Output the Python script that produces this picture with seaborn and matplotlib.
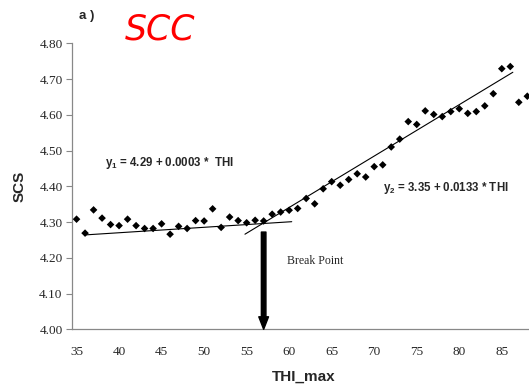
import numpy as np
import pandas as pd
import seaborn as sns
import matplotlib.pyplot as plt
from matplotlib import font_manager

# data
thi = list(range(35, 89))
scs = [4.308, 4.269, 4.334, 4.311, 4.293, 4.290, 4.308, 4.290, 4.282, 4.282,
       4.295, 4.266, 4.288, 4.282, 4.304, 4.303, 4.337, 4.285, 4.314, 4.304,
       4.298, 4.305, 4.303, 4.322, 4.328, 4.333, 4.338, 4.366, 4.351, 4.393,
       4.413, 4.403, 4.419, 4.435, 4.426, 4.455, 4.460, 4.510, 4.532, 4.581,
       4.573, 4.611, 4.601, 4.595, 4.609, 4.617, 4.604, 4.609, 4.625, 4.659,
       4.729, 4.735, 4.635, 4.652]

# fitted segments (end points as drawn)
fit1_x = [36, 60.3]
fit1_y = [4.264, 4.301]
fit2_x = [54.8, 86.3]
fit2_y = [4.266, 4.719]

break_x = 57
break_top = 4.272

y_ticks = [4.0, 4.1, 4.2, 4.3, 4.4, 4.5, 4.6, 4.7, 4.8]
x_ticks = [35, 40, 45, 50, 55, 60, 65, 70, 75, 80, 85]

df = pd.DataFrame({'THI_max': thi, 'SCS': scs})

sns.set_style('white')
plt.rcParams['font.family'] = ['Liberation Sans', 'DejaVu Sans']
plt.rcParams['mathtext.fontset'] = 'custom'
plt.rcParams['mathtext.bf'] = 'Liberation Sans:bold'

names = {f.name for f in font_manager.fontManager.ttflist}
narrow = 'Liberation Sans Narrow' if 'Liberation Sans Narrow' in names else 'Liberation Sans'
serif = ['Liberation Serif', 'DejaVu Serif']

fig = plt.figure(figsize=(5.29, 3.9), dpi=100)
ax = fig.add_axes([72.3 / 529, 1 - 329.3 / 390, (529 - 72.3) / 529, (329.3 - 43.3) / 390])

sns.scatterplot(data=df, x='THI_max', y='SCS', marker='D', s=15, color='black',
                edgecolor='none', ax=ax, zorder=3)
sns.lineplot(x=fit1_x, y=fit1_y, color='black', linewidth=0.8, ax=ax)
sns.lineplot(x=fit2_x, y=fit2_y, color='black', linewidth=0.8, ax=ax)

ax.annotate('', xy=(break_x, 4.0), xytext=(break_x, break_top),
            arrowprops=dict(facecolor='black', edgecolor='black', width=3.3,
                            headwidth=7, headlength=9, shrink=0))

ax.set_xlim(34.5, 88.2)
ax.set_ylim(4.0, 4.8)
ax.set_yticks(y_ticks)
ax.set_yticklabels(['%.2f' % v for v in y_ticks], fontfamily=serif, fontsize=9.5)
ax.set_xticks(x_ticks)
ax.set_xticklabels([str(v) for v in x_ticks], fontfamily=serif, fontsize=9.5)
ax.set_xticks(np.arange(34.5, 88.5, 1), minor=True)
ax.tick_params(axis='x', which='major', length=0, pad=12)
ax.tick_params(axis='x', which='minor', length=4, width=0.8, color='#888888', direction='out')
ax.tick_params(axis='y', which='major', length=4, width=0.8, color='#888888',
               direction='out', left=True, pad=3)
ax.set_xlabel('')
ax.set_ylabel('')

for side in ['top', 'right']:
    ax.spines[side].set_visible(False)
for side in ['left', 'bottom']:
    ax.spines[side].set_color('#888888')
    ax.spines[side].set_linewidth(0.9)

ax.text(38.4, 4.466, r'y$_\mathbf{1}$ = 4.29 + 0.0003 *  THI', fontsize=8.3,
        fontweight='bold', va='center', ha='left')
ax.text(71.0, 4.395, r'y$_\mathbf{2}$ = 3.35 + 0.0133 * THI', fontsize=8.3,
        fontweight='bold', va='center', ha='left')
ax.text(59.7, 4.191, 'Break Point', fontsize=8.5, fontfamily=serif,
        va='center', ha='left')

fig.text(79 / 529, 1 - 15.7 / 390, 'a )', fontsize=9.5, fontweight='bold',
         va='center', ha='left')
fig.text(160.3 / 529, 1 - 30 / 390, 'SCC', fontsize=25, color='red',
         fontfamily='DejaVu Sans', fontstyle='oblique', va='center', ha='center')
fig.text(19.5 / 529, 1 - 186 / 390, 'SCS', fontsize=11, fontweight='bold',
         rotation=90, va='center', ha='center')
fig.text(272 / 529, 1 - 376.5 / 390, 'THI_max', fontsize=11, fontweight='bold',
         fontfamily=narrow, va='center', ha='left')

fig.savefig('out.png', dpi=100)
